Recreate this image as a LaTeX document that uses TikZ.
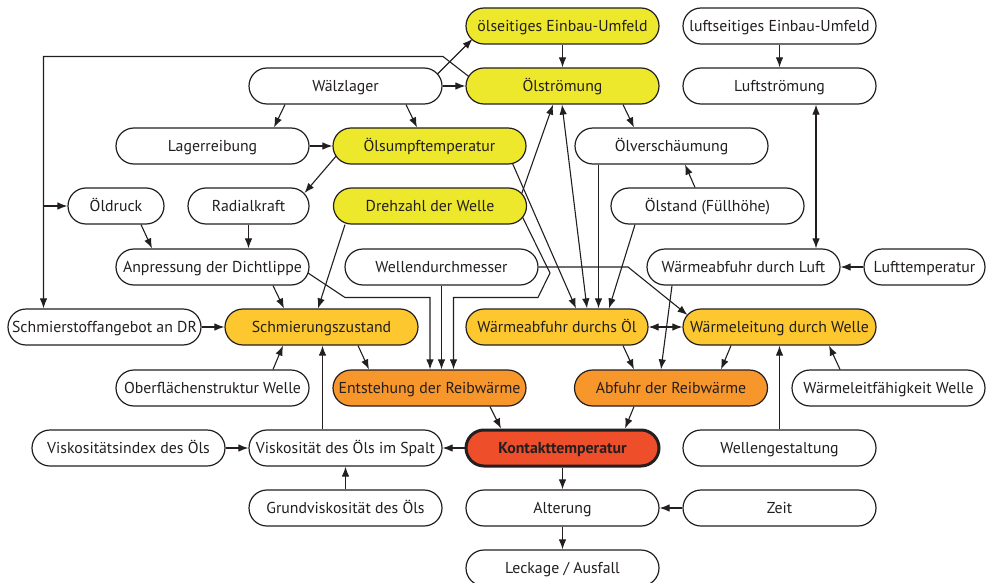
\documentclass[tikz,border=0pt]{standalone}
\usepackage{fontspec}
\newfontfamily\myfont{PT Sans}
\usetikzlibrary{arrows.meta,calc}
\pgfdeclarelayer{bg}
\pgfsetlayers{bg,main}
\definecolor{cyel}{HTML}{EEE82C}
\definecolor{corg}{HTML}{FDC82F}
\definecolor{cora}{HTML}{F6962B}
\definecolor{cred}{HTML}{EE4E2A}
\definecolor{ink}{HTML}{231F20}
\newcommand\nodefont{\myfont\fontsize{15.8}{18}\selectfont}
\begin{document}
\begin{tikzpicture}[x=1pt,y=-1pt,
 box/.style={draw=ink, line width=1.2pt, rounded corners=18pt, minimum height=36pt, minimum width=193pt, inner sep=0pt, font=\nodefont, fill=white, text=ink, text height=14pt, text depth=3.5pt},
 yel/.style={box, fill=cyel},
 org/.style={box, fill=corg},
 ora/.style={box, fill=cora},
 arr/.style={draw=ink, line width=1.1pt, -{Latex[length=10pt,width=7.5pt]}},
 darr/.style={draw=ink, line width=1.1pt, {Latex[length=10pt,width=7.5pt]}-{Latex[length=10pt,width=7.5pt]}}]
\useasboundingbox (0,0) rectangle (987,583);
% row 1
\node[yel] (oe) at (562.5,26) {ölseitiges Einbau-Umfeld};
\node[box] (le) at (779.5,26) {luftseitiges Einbau-Umfeld};
% row 2
\node[box] (wl) at (345.5,86) {Wälzlager};
\node[yel] (os) at (562.5,86) {Ölströmung};
\node[box] (ls) at (779.5,86) {Luftströmung};
% row 3
\node[box] (lr) at (212.5,146) {Lagerreibung};
\node[yel] (st) at (429.5,146) {Ölsumpftemperatur};
\node[box] (ov) at (671.5,146) {Ölverschäumung};
% row 4
\node[box, minimum width=96pt] (od) at (116,206) {Öldruck};
\node[box, minimum width=121pt] (rk) at (248.5,206) {Radialkraft};
\node[yel] (dz) at (430,206) {Drehzahl der Welle};
\node[box] (oh) at (707.5,206) {Ölstand (Füllhöhe)};
% row 5
\node[box] (ap) at (212.5,267) {Anpressung der Dichtlippe};
\node[box] (wd) at (441.5,267) {Wellendurchmesser};
\node[box] (wa) at (743.5,267) {Wärmeabfuhr durch Luft};
\node[box, minimum width=121pt] (lt) at (924.5,267) {Lufttemperatur};
% row 6
\node[box] (sa) at (104.5,327) {Schmierstoffangebot an DR};
\node[org] (sz) at (321.5,327) {Schmierungszustand};
\node[org, minimum width=182pt] (wo) at (557,327) {Wärmeabfuhr durchs Öl};
\node[org] (ww) at (779.5,327) {Wärmeleitung durch Welle};
% row 7
\node[box] (ob) at (212.5,388) {Oberflächenstruktur Welle};
\node[ora] (er) at (429.5,388) {Entstehung der Reibwärme};
\node[ora] (ar) at (671,388) {Abfuhr der Reibwärme};
\node[box] (wf) at (888.5,388) {Wärmeleitfähigkeit Welle};
% row 8
\node[box] (vi) at (128.5,448) {Viskositätsindex des Öls};
\node[box] (vs) at (345.5,448) {Viskosität des Öls im Spalt};
\node[box, fill=cred, line width=3pt, font=\nodefont\bfseries] (kt) at (562.5,448) {Kontakttemperatur};
\node[box] (wg) at (779.5,448) {Wellengestaltung};
% row 9
\node[box] (gv) at (345.5,508) {Grundviskosität des Öls};
\node[box] (al) at (562.5,508) {Alterung};
\node[box] (ze) at (779.5,508) {Zeit};
% row 10
\node[box] (lk) at (562.5,568) {Leckage / Ausfall};
\coordinate (j1) at (43.5,56.5);
\coordinate (j2) at (43.5,206);
\begin{pgfonlayer}{bg}
\draw[arr] (oe.south) -- (os.north);
\draw[arr] (le.south) -- (ls.north);
\draw[arr] ($(wl.center)+(88,-8)$) -- ($(oe.center)+(-90,13)$);
\draw[arr] (wl.east) -- (os.west);
\draw[arr] ($(os.center)+(-90.5,-7)$) -- (443,56.5) -- (j1) -- ([xshift=-61]sa.north);
\draw[arr] (j2) -- (od.west);
\draw[arr] ([xshift=-60.5]wl.south) -- ([xshift=61.5]lr.north);
\draw[arr] ([xshift=60.5]wl.south) -- ([xshift=-12.5]st.north);
\draw[arr] (lr.east) -- (st.west);
\draw[arr] ($(st.center)+(-92,8.5)$) -- ($(rk.center)+(56,-13)$);
\draw[arr] ([xshift=25]od.south) -- ([xshift=-60.5]ap.north);
\draw[arr] (rk.south) -- (rk.south |- ap.north);
\draw[arr] ([xshift=60.5]ap.south) -- ([xshift=-37.5]sz.north);
\draw[arr] ($(ap.center)+(89.5,2)$) -- (345,297.5) -- (430,297.5) -- ([xshift=0.5]er.north);
\draw[arr] ([xshift=-85]dz.south) -- ([xshift=-3.5]sz.north);
\draw[arr] (wd.south) -- (wd.south |- er.north);
\draw[arr] ($(dz.center)+(89,4)$) -- (550,273) -- (538,297.5) -- (453.5,297.5) -- ([xshift=24]er.north);
\draw[arr] ($(dz.center)+(90,-7.6)$) -- ([xshift=-9.5]os.south);
\draw[arr] ($(st.center)+(81.5,14)$) -- ([xshift=19]wo.north);
\draw[darr] ([xshift=-0.5]os.south) -- ([xshift=30]wo.north);
\draw[arr] ([xshift=-73]ov.south) -- ([xshift=41.5]wo.north);
\draw[arr] ([xshift=-72.5]oh.south) -- ([xshift=52]wo.north);
\draw[arr] (wd.east) -- (628,267) -- ($(ww.center)+(-92,-12)$);
\draw[arr] ([xshift=60.5]os.south) -- ([xshift=-37.5]ov.north);
\draw[arr] ([xshift=-12.5]oh.north) -- ([xshift=13.5]ov.south);
\draw[darr] ([xshift=36.5]ls.south) -- ([xshift=72.5]wa.north);
\draw[arr] (lt.west) -- (wa.east);
\draw[arr] ([xshift=-71.5]wa.south) -- ([xshift=-10]ar.north);
\draw[darr] (wo.east) -- (ww.west);
\draw[arr] ([xshift=66]wo.south) -- ([xshift=-37]ar.north);
\draw[arr] ([xshift=-48.5]ww.south) -- ([xshift=50]ar.north);
\draw[arr] (wg.north) -- (ww.south);
\draw[arr] ([xshift=-48.5]wf.north) -- ([xshift=49.5]ww.south);
\draw[arr] (sa.east) -- (sz.west);
\draw[arr] ([xshift=60.5]ob.north) -- ([xshift=-38.5]sz.south);
\draw[arr] ([xshift=36.5]sz.south) -- ([xshift=-60.5]er.north);
\draw[arr] ([xshift=-23]vs.north) -- ([xshift=1]sz.south);
\draw[arr] (vi.east) -- (vs.west);
\draw[arr] (kt.west) -- (vs.east);
\draw[arr] (gv.north) -- (vs.south);
\draw[arr] ([xshift=60.5]er.south) -- ([xshift=-61.5]kt.north);
\draw[arr] ([xshift=-37]ar.south) -- ([xshift=62.5]kt.north);
\draw[arr] (kt.south) -- (al.north);
\draw[arr] (ze.west) -- (al.east);
\draw[arr] (al.south) -- (lk.north);
\end{pgfonlayer}
\end{tikzpicture}
\end{document}
